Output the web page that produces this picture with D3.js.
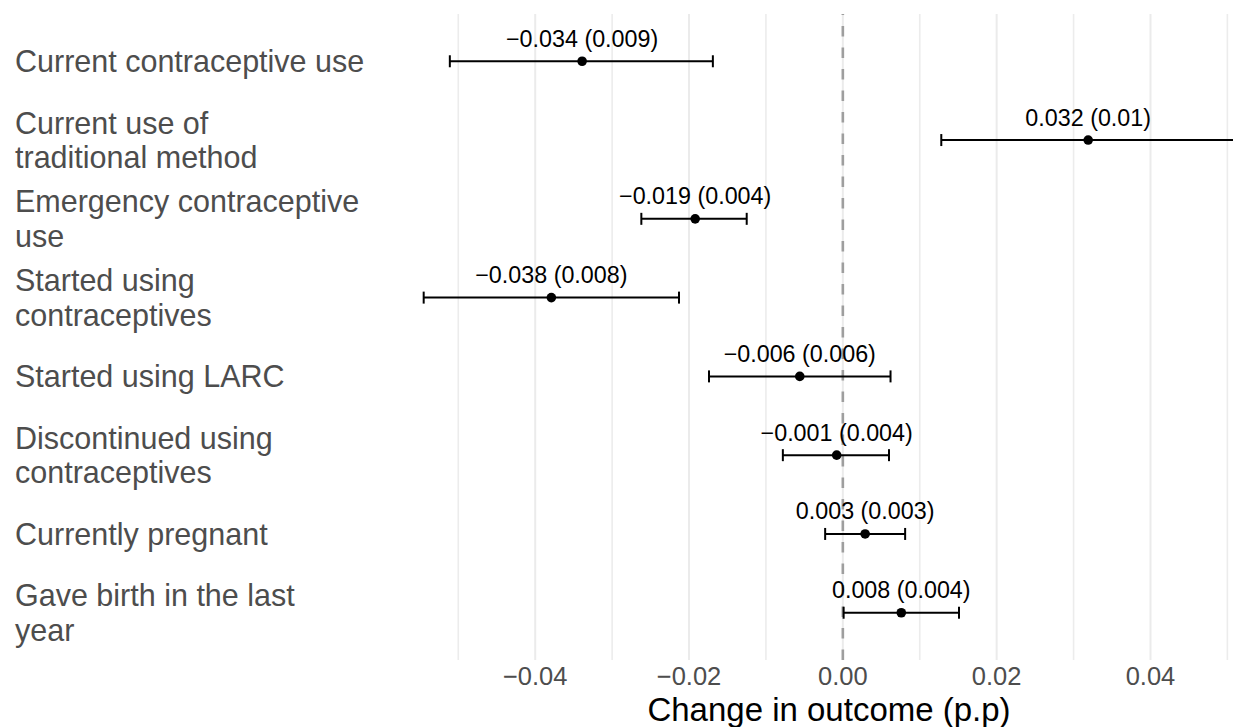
<!DOCTYPE html>
<html>
<head>
<meta charset="utf-8">
<script src="https://cdn.jsdelivr.net/npm/d3@7"></script>
<style>
  html, body { margin:0; padding:0; background:#fff; }
  svg { display:block; font-family:"Liberation Sans", Arial, Helvetica, sans-serif; }
</style>
</head>
<body>
<div id="chart"></div>
<script>
// outcome rows, top to bottom (label lines as wrapped in the figure)
var outcomes = [
  ["Current contraceptive use"],
  ["Current use of", "traditional method"],
  ["Emergency contraceptive", "use"],
  ["Started using", "contraceptives"],
  ["Started using LARC"],
  ["Discontinued using", "contraceptives"],
  ["Currently pregnant"],
  ["Gave birth in the last", "year"]
];
// point estimates and 95% interval ends
var estimates = [-0.0339, 0.0319, -0.0192, -0.0379, -0.0056, -0.0008, 0.0029, 0.0076];
var lower     = [-0.0511, 0.0128, -0.0262, -0.0545, -0.0174, -0.0078, -0.0023, 0.0001];
var upper     = [-0.0169, 0.0509, -0.0125, -0.0213, 0.0062, 0.0060, 0.0081, 0.0151];
// printed labels above each point
var pointLabels = ["−0.034 (0.009)", "0.032 (0.01)", "−0.019 (0.004)", "−0.038 (0.008)",
                   "−0.006 (0.006)", "−0.001 (0.004)", "0.003 (0.003)", "0.008 (0.004)"];
var majorTicks = [-0.04, -0.02, 0, 0.02, 0.04];
var minorTicks = [-0.05, -0.03, -0.01, 0.01, 0.03, 0.05];
var tickLabels = ["−0.04", "−0.02", "0.00", "0.02", "0.04"];
var xTitle = "Change in outcome (p.p)";

var W = 1233, H = 727;
var panel = { l:386, r:1272, t:14, b:660 };

var svg = d3.select("#chart").append("svg").attr("width", W).attr("height", H);

var x = d3.scaleLinear().domain([-0.0594, 0.0558]).range([panel.l, panel.r]);
var rows = d3.range(outcomes.length);
var y = d3.scalePoint().domain(rows).range([panel.t, panel.b]).padding(0.6);

svg.append("defs").append("clipPath").attr("id", "pclip")
  .append("rect").attr("x", panel.l).attr("y", panel.t)
  .attr("width", panel.r - panel.l).attr("height", panel.b - panel.t);

var grid = svg.append("g");
grid.selectAll("line.minor").data(minorTicks).enter().append("line")
  .attr("class", "minor")
  .attr("x1", function(d){ return x(d); }).attr("x2", function(d){ return x(d); })
  .attr("y1", panel.t).attr("y2", panel.b)
  .attr("stroke", "#ECECEC").attr("stroke-width", 1.6);
grid.selectAll("line.major").data(majorTicks).enter().append("line")
  .attr("class", "major")
  .attr("x1", function(d){ return x(d); }).attr("x2", function(d){ return x(d); })
  .attr("y1", panel.t).attr("y2", panel.b)
  .attr("stroke", "#EBEBEB").attr("stroke-width", 2);

// zero reference line, dashed, drawn upward from the panel bottom
svg.append("line")
  .attr("x1", x(0)).attr("x2", x(0)).attr("y1", panel.b).attr("y2", panel.t)
  .attr("stroke", "#9E9E9E").attr("stroke-width", 2.6).attr("stroke-dasharray", "10.5 11");

var g = svg.append("g").attr("clip-path", "url(#pclip)");
var CAP = 6;
rows.forEach(function(i){
  var cy = y(i);
  g.append("line").attr("x1", x(lower[i])).attr("x2", x(upper[i]))
    .attr("y1", cy).attr("y2", cy).attr("stroke", "#000").attr("stroke-width", 2);
  [lower[i], upper[i]].forEach(function(v){
    g.append("line").attr("x1", x(v)).attr("x2", x(v))
      .attr("y1", cy - CAP).attr("y2", cy + CAP).attr("stroke", "#000").attr("stroke-width", 2);
  });
  g.append("circle").attr("cx", x(estimates[i])).attr("cy", cy).attr("r", 4.8).attr("fill", "#000");
  g.append("text").attr("x", x(estimates[i])).attr("y", cy - 14.5)
    .attr("text-anchor", "middle").attr("font-size", 23.3).attr("fill", "#000")
    .text(pointLabels[i]);
});

// y labels, left aligned, block centred on the row
var YFS = 30.5, LH = 34.5;
rows.forEach(function(i){
  var lines = outcomes[i], n = lines.length;
  var base = y(i) + 0.716 * YFS / 2 - (n - 1) * LH / 2;
  var t = svg.append("text").attr("x", 15).attr("font-size", YFS).attr("fill", "#4D4D4D");
  lines.forEach(function(s, k){
    t.append("tspan").attr("x", 15).attr("y", base + k * LH).text(s);
  });
});

// x tick labels
svg.selectAll("text.xtick").data(majorTicks).enter().append("text")
  .attr("class", "xtick")
  .attr("x", function(d){ return x(d); }).attr("y", 685)
  .attr("text-anchor", "middle").attr("font-size", 25.5).attr("fill", "#4D4D4D")
  .text(function(d, i){ return tickLabels[i]; });

svg.append("text").attr("x", (panel.l + panel.r) / 2).attr("y", 721)
  .attr("text-anchor", "middle").attr("font-size", 33).attr("fill", "#000")
  .text(xTitle);
</script>
</body>
</html>
